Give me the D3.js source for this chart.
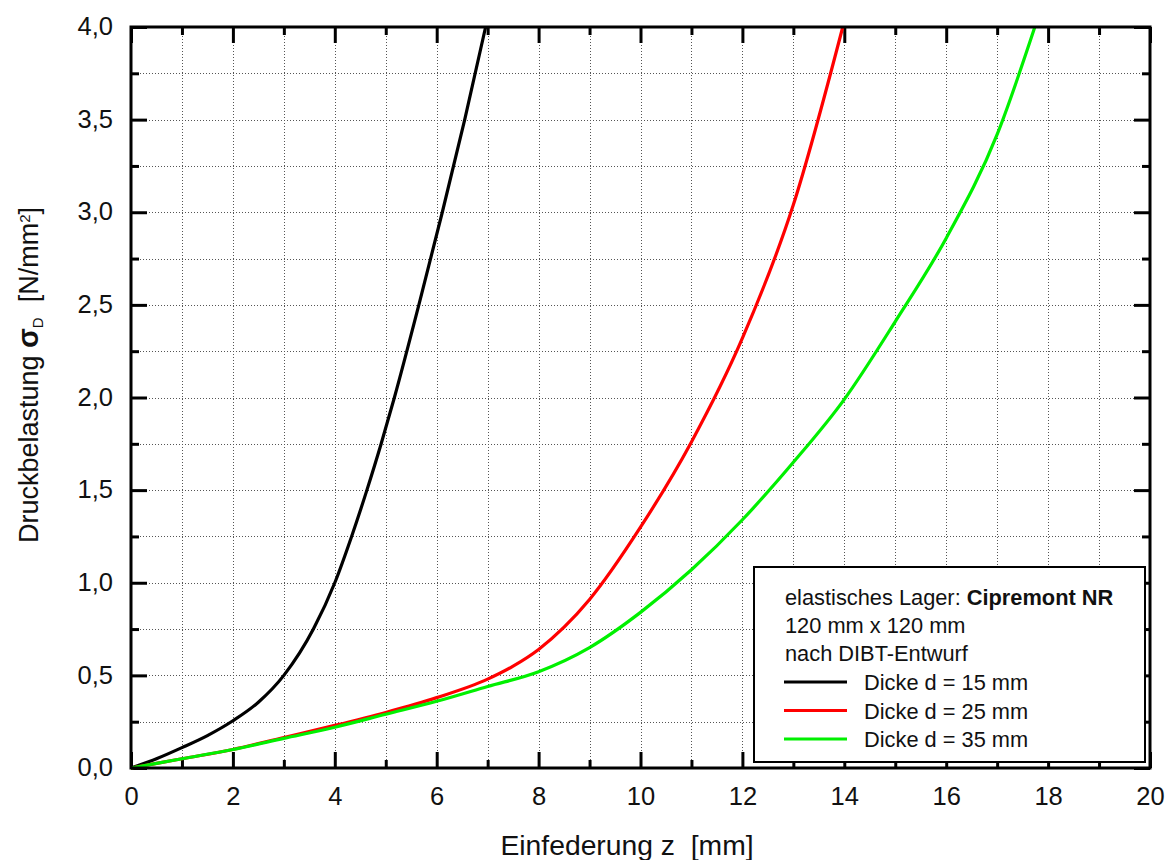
<!DOCTYPE html>
<html>
<head>
<meta charset="utf-8">
<script src="https://cdn.jsdelivr.net/npm/d3@7"></script>
<style>
  html, body { margin: 0; padding: 0; background: #fff; }
  svg { display: block; font-family: "Liberation Sans", Arial, sans-serif; }
  text { white-space: pre; }
</style>
</head>
<body>
<svg id="chart" width="1176" height="860"></svg>
<script>
// Einfederung z [mm] and Druckbelastung sigma_D [N/mm²] for three pad thicknesses
const zD15 = [0, 0.5, 1, 1.5, 2, 2.5, 3.0, 3.58, 4.0, 4.33, 4.63, 4.91, 5.17, 5.65, 6.11, 6.55, 6.96];
const sD15 = [0, 0.05, 0.11, 0.175, 0.255, 0.355, 0.50, 0.75, 1.0, 1.25, 1.5, 1.75, 2.0, 2.5, 3.0, 3.5, 4.0];

const zD25 = [0, 1, 2, 3, 4, 5, 6, 7, 7.5, 8, 8.5, 9, 10, 11, 12, 13, 13.97];
const sD25 = [0, 0.05, 0.10, 0.165, 0.23, 0.30, 0.38, 0.48, 0.55, 0.64, 0.76, 0.91, 1.30, 1.76, 2.32, 3.04, 4.0];

const zD35 = [0, 1, 2, 3, 4, 5, 6, 7, 8, 9, 10, 11, 12, 13, 14, 15, 16, 17, 17.74];
const sD35 = [0, 0.05, 0.10, 0.16, 0.22, 0.29, 0.36, 0.44, 0.52, 0.65, 0.84, 1.07, 1.34, 1.65, 1.99, 2.41, 2.86, 3.42, 4.0];

const xMajor = [0, 2, 4, 6, 8, 10, 12, 14, 16, 18, 20];
const xMinor = [1, 3, 5, 7, 9, 11, 13, 15, 17, 19];
const yMajor = [0, 0.5, 1.0, 1.5, 2.0, 2.5, 3.0, 3.5, 4.0];
const yMinor = [0.25, 0.75, 1.25, 1.75, 2.25, 2.75, 3.25, 3.75];

const legendHeader = ["120 mm x 120 mm", "nach DIBT-Entwurf"];
const seriesNames = ["Dicke d = 15 mm", "Dicke d = 25 mm", "Dicke d = 35 mm"];
const seriesColors = ["#000000", "#ff0000", "#00f000"];

const svg = d3.select("#chart");
const pLeft = 131, pRight = 1150, pTop = 27, pBottom = 768;

const x = d3.scaleLinear().domain([0, 20]).range([pLeft, pRight]);
const y = d3.scaleLinear().domain([0, 4]).range([pBottom, pTop]);

const fmt = d => d.toFixed(1).replace(".", ",");
const FONT = "'Liberation Sans', Arial, sans-serif";

// dotted grid
const grid = svg.append("g").attr("stroke", "#555").attr("stroke-width", 1)
  .attr("stroke-dasharray", "1,2").attr("shape-rendering", "crispEdges");
grid.selectAll("line.v").data(d3.range(1, 20)).join("line").attr("class", "v")
  .attr("x1", d => Math.round(x(d)) + 0.5).attr("x2", d => Math.round(x(d)) + 0.5)
  .attr("y1", pTop).attr("y2", pBottom);
grid.selectAll("line.h").data(d3.range(1, 16).map(i => i * 0.25)).join("line").attr("class", "h")
  .attr("y1", d => Math.round(y(d)) + 0.5).attr("y2", d => Math.round(y(d)) + 0.5)
  .attr("x1", pLeft).attr("x2", pRight);

// axes: major ticks 16px and minor ticks 8px pointing inward, on all four sides
function styleAxis(g) {
  g.select(".domain").remove();
  g.selectAll(".tick line").attr("stroke", "#000").attr("stroke-width", 3);
  g.selectAll(".tick text").attr("fill", "#111").style("font-size", "25.5px").style("font-family", FONT);
}
svg.append("g").attr("transform", `translate(0,${pBottom})`)
  .call(d3.axisBottom(x).tickValues(xMajor).tickSizeInner(-16).tickSizeOuter(0).tickFormat(d3.format("d")))
  .call(styleAxis)
  .call(g => g.selectAll(".tick text").attr("y", 37).attr("dy", "0"));
svg.append("g").attr("transform", `translate(0,${pBottom})`)
  .call(d3.axisBottom(x).tickValues(xMinor).tickSizeInner(-8).tickSizeOuter(0).tickFormat(""))
  .call(styleAxis);
svg.append("g").attr("transform", `translate(0,${pTop})`)
  .call(d3.axisTop(x).tickValues(xMajor).tickSizeInner(-16).tickSizeOuter(0).tickFormat(""))
  .call(styleAxis);
svg.append("g").attr("transform", `translate(0,${pTop})`)
  .call(d3.axisTop(x).tickValues(xMinor).tickSizeInner(-8).tickSizeOuter(0).tickFormat(""))
  .call(styleAxis);
svg.append("g").attr("transform", `translate(${pLeft},0)`)
  .call(d3.axisLeft(y).tickValues(yMajor).tickSizeInner(-16).tickSizeOuter(0).tickFormat(fmt))
  .call(styleAxis)
  .call(g => g.selectAll(".tick text").attr("x", -18).attr("dy", "0.3em"));
svg.append("g").attr("transform", `translate(${pLeft},0)`)
  .call(d3.axisLeft(y).tickValues(yMinor).tickSizeInner(-8).tickSizeOuter(0).tickFormat(""))
  .call(styleAxis);
svg.append("g").attr("transform", `translate(${pRight},0)`)
  .call(d3.axisRight(y).tickValues(yMajor).tickSizeInner(-16).tickSizeOuter(0).tickFormat(""))
  .call(styleAxis);
svg.append("g").attr("transform", `translate(${pRight},0)`)
  .call(d3.axisRight(y).tickValues(yMinor).tickSizeInner(-8).tickSizeOuter(0).tickFormat(""))
  .call(styleAxis);

// curves
const line = d3.line().x(d => x(d[0])).y(d => y(d[1])).curve(d3.curveMonotoneX);
const series = [
  zD15.map((z, i) => [z, sD15[i]]),
  zD25.map((z, i) => [z, sD25[i]]),
  zD35.map((z, i) => [z, sD35[i]])
];
svg.append("g").selectAll("path").data(series).join("path")
  .attr("d", line).attr("fill", "none")
  .attr("stroke", (d, i) => seriesColors[i]).attr("stroke-width", 3.2)
  .attr("stroke-linejoin", "round");

// legend
const LFS = "21.8px";
const lg = svg.append("g").style("font-family", FONT);
lg.append("rect").attr("x", 754).attr("y", 567).attr("width", 391).attr("height", 195)
  .attr("fill", "#fff").attr("stroke", "#000").attr("stroke-width", 2);
const t0 = lg.append("text").attr("x", 785).attr("y", 605).style("font-size", LFS).attr("fill", "#111");
t0.append("tspan").text("elastisches Lager: ");
t0.append("tspan").attr("font-weight", "bold").text("Cipremont NR");
lg.selectAll("text.hdr").data(legendHeader).join("text").attr("class", "hdr")
  .attr("x", 785).attr("y", (d, i) => 633 + i * 28).style("font-size", LFS).attr("fill", "#111").text(d => d);
const entry = lg.selectAll("g.entry").data(seriesNames).join("g").attr("class", "entry");
entry.append("line").attr("x1", 784).attr("x2", 847)
  .attr("y1", (d, i) => 682 + i * 28.5).attr("y2", (d, i) => 682 + i * 28.5)
  .attr("stroke", (d, i) => seriesColors[i]).attr("stroke-width", 3);
entry.append("text").attr("x", 864).attr("y", (d, i) => 690 + i * 28.5)
  .style("font-size", LFS).attr("fill", "#111").text(d => d);

// frame
svg.append("rect").attr("x", pLeft).attr("y", pTop).attr("width", pRight - pLeft).attr("height", pBottom - pTop)
  .attr("fill", "none").attr("stroke", "#000").attr("stroke-width", 3);

// axis titles
svg.append("text").attr("x", 627).attr("y", 855).attr("text-anchor", "middle")
  .style("font-size", "28.3px").style("font-family", FONT).attr("fill", "#111").text("Einfederung z  [mm]");

const yt = svg.append("text").attr("transform", "translate(38,375) rotate(-90)")
  .attr("text-anchor", "middle").style("font-size", "27px").style("font-family", FONT).attr("fill", "#111");
yt.append("tspan").text("Druckbelastung ");
yt.append("tspan").attr("font-weight", "bold").style("font-size", "29px").text("σ");
yt.append("tspan").attr("baseline-shift", "-35%").style("font-size", "15px").text("D");
yt.append("tspan").text("  [N/mm");
yt.append("tspan").attr("baseline-shift", "super").style("font-size", "15px").text("2");
yt.append("tspan").text("]");
</script>
</body>
</html>
